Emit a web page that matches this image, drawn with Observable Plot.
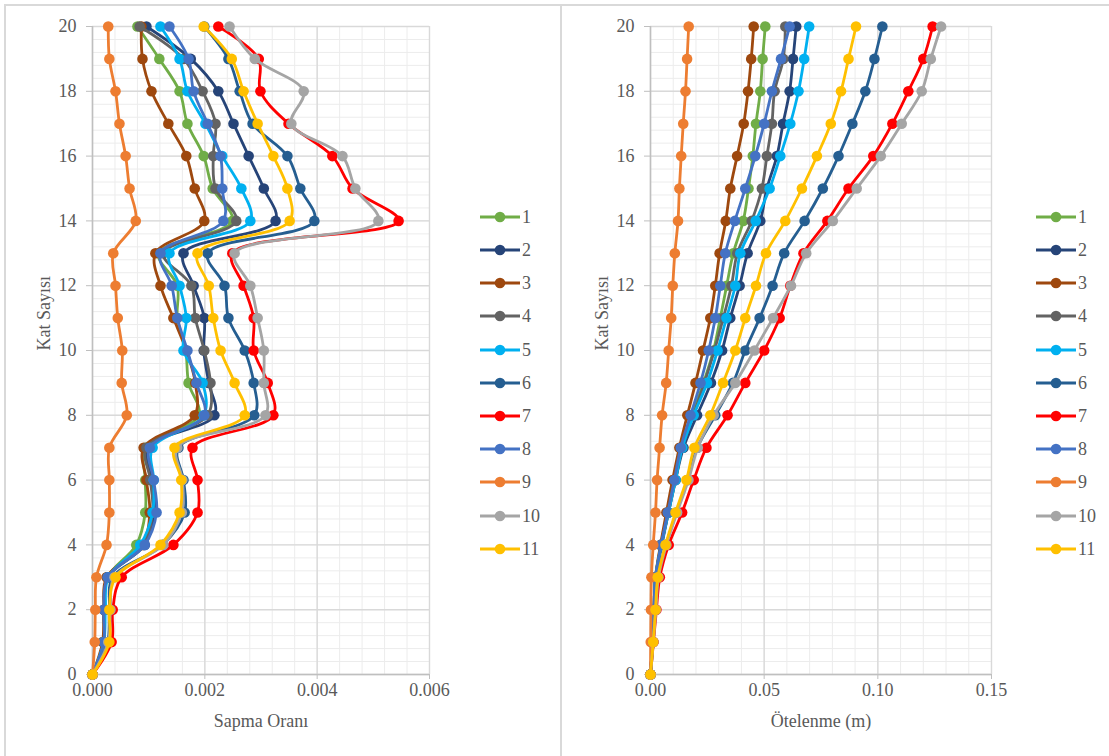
<!DOCTYPE html>
<html>
<head>
<meta charset="utf-8">
<script src="https://cdn.jsdelivr.net/npm/d3@7"></script>
<script src="https://cdn.jsdelivr.net/npm/@observablehq/plot@0.6"></script>
<style>
  html, body { margin: 0; padding: 0; background: #fff; }
  #page { position: relative; width: 1109px; height: 756px; overflow: hidden; font-family: "Liberation Serif", "Times New Roman", serif; }
  .box { position: absolute; border: 2px solid #d9d9d9; box-sizing: border-box; }
  .chart { position: absolute; top: 0; }
  .legend { position: absolute; }
  .legend .row { position: absolute; left: 0; height: 20px; display: flex; align-items: center; white-space: nowrap; }
  .legend .row span { font-family: "Liberation Serif", serif; font-size: 18px; color: #595959; margin-left: 2px; line-height: 20px; }
</style>
</head>
<body>
<div id="page">
  <div class="box" style="left:4px; top:4px; width:558px; height:800px;"></div>
  <div class="box" style="left:560px; top:4px; width:600px; height:800px;"></div>
  <div id="left" class="chart" style="left:0px;"></div>
  <div id="right" class="chart" style="left:561px;"></div>
  <div id="legL" class="legend" style="left:480px; top:0px;"></div>
  <div id="legR" class="legend" style="left:1036px; top:0px;"></div>
</div>
<script>
// ---------- data ----------
const floors = [0,1,2,3,4,5,6,7,8,9,10,11,12,13,14,15,16,17,18,19,20];
const seriesNames = ["1","2","3","4","5","6","7","8","9","10","11"];
const seriesColors = ["#70AD47","#264478","#9E480E","#636363","#00B0F0","#255E91","#FF0000","#4472C4","#ED7D31","#A5A5A5","#FFC000"];

// Sapma Oranı (drift ratio), floors 0..20
const drift1  = [0,0.00020,0.00021,0.00027,0.00078,0.00094,0.00094,0.00094,0.00189,0.00171,0.00166,0.00151,0.00151,0.00118,0.00249,0.00214,0.00198,0.00169,0.00155,0.00119,0.00080];
const drift2  = [0,0.00020,0.00021,0.00027,0.00093,0.00110,0.00107,0.00098,0.00217,0.00207,0.00198,0.00199,0.00180,0.00162,0.00326,0.00305,0.00278,0.00251,0.00224,0.00175,0.00096];
const drift3  = [0,0.00018,0.00020,0.00025,0.00089,0.00102,0.00096,0.00091,0.00182,0.00183,0.00167,0.00144,0.00121,0.00112,0.00199,0.00182,0.00167,0.00135,0.00105,0.00089,0.00087];
const drift4  = [0,0.00020,0.00021,0.00027,0.00091,0.00107,0.00103,0.00096,0.00205,0.00210,0.00199,0.00183,0.00176,0.00126,0.00256,0.00219,0.00215,0.00219,0.00196,0.00162,0.00084];
const drift5  = [0,0.00020,0.00023,0.00028,0.00085,0.00107,0.00109,0.00107,0.00198,0.00196,0.00162,0.00167,0.00155,0.00137,0.00281,0.00265,0.00231,0.00201,0.00169,0.00155,0.00121];
const drift6  = [0,0.00027,0.00030,0.00036,0.00125,0.00164,0.00162,0.00153,0.00288,0.00287,0.00271,0.00242,0.00235,0.00205,0.00395,0.00370,0.00347,0.00285,0.00262,0.00242,0.00199];
const drift7  = [0,0.00034,0.00036,0.00052,0.00144,0.00187,0.00187,0.00178,0.00322,0.00312,0.00287,0.00287,0.00269,0.00249,0.00545,0.00463,0.00427,0.00349,0.00299,0.00296,0.00224];
const drift8  = [0,0.00020,0.00020,0.00027,0.00093,0.00114,0.00109,0.00102,0.00199,0.00185,0.00169,0.00151,0.00141,0.00121,0.00233,0.00231,0.00228,0.00205,0.00180,0.00171,0.00137];
const drift9  = [0,0.00004,0.00005,0.00007,0.00025,0.00030,0.00030,0.00030,0.00061,0.00052,0.00053,0.00045,0.00041,0.00037,0.00077,0.00066,0.00059,0.00048,0.00041,0.00030,0.00028];
const drift10 = [0,0.00028,0.00032,0.00039,0.00126,0.00159,0.00160,0.00151,0.00308,0.00305,0.00305,0.00294,0.00281,0.00253,0.00509,0.00468,0.00445,0.00354,0.00376,0.00289,0.00244];
const drift11 = [0,0.00030,0.00030,0.00041,0.00121,0.00155,0.00158,0.00146,0.00271,0.00253,0.00228,0.00215,0.00207,0.00187,0.00351,0.00347,0.00322,0.00294,0.00269,0.00248,0.00198];

// Ötelenme (m), floors 0..20
const disp1  = [0,0.0009,0.0015,0.0022,0.0046,0.0075,0.0103,0.0134,0.0184,0.0233,0.0277,0.0307,0.0335,0.0364,0.0408,0.0431,0.0450,0.0464,0.0483,0.0493,0.0505];
const disp2  = [0,0.0009,0.0018,0.0024,0.0050,0.0079,0.0110,0.0145,0.0205,0.0266,0.0315,0.0351,0.0392,0.0427,0.0483,0.0512,0.0556,0.0583,0.0612,0.0627,0.0641];
const disp3  = [0,0.0009,0.0015,0.0022,0.0044,0.0070,0.0097,0.0127,0.0162,0.0198,0.0231,0.0263,0.0285,0.0304,0.0331,0.0351,0.0381,0.0410,0.0429,0.0443,0.0454];
const disp4  = [0,0.0009,0.0015,0.0022,0.0048,0.0079,0.0110,0.0140,0.0189,0.0237,0.0281,0.0320,0.0356,0.0382,0.0445,0.0490,0.0512,0.0534,0.0546,0.0584,0.0593];
const disp5  = [0,0.0009,0.0015,0.0022,0.0048,0.0079,0.0110,0.0140,0.0190,0.0249,0.0295,0.0334,0.0373,0.0395,0.0463,0.0524,0.0571,0.0615,0.0651,0.0676,0.0698];
const disp6  = [0,0.0012,0.0022,0.0032,0.0068,0.0114,0.0162,0.0206,0.0285,0.0363,0.0417,0.0480,0.0537,0.0588,0.0678,0.0758,0.0827,0.0888,0.0945,0.0985,0.1020];
const disp7  = [0,0.0013,0.0026,0.0041,0.0080,0.0139,0.0190,0.0246,0.0339,0.0417,0.0500,0.0568,0.0615,0.0673,0.0778,0.0871,0.0980,0.1064,0.1134,0.1200,0.1241];
const disp8  = [0,0.0009,0.0015,0.0022,0.0047,0.0076,0.0105,0.0133,0.0176,0.0220,0.0256,0.0285,0.0307,0.0329,0.0371,0.0417,0.0461,0.0500,0.0534,0.0574,0.0612];
const disp9  = [0,0.0001,0.0002,0.0004,0.0012,0.0022,0.0029,0.0040,0.0051,0.0069,0.0080,0.0091,0.0098,0.0107,0.0121,0.0127,0.0135,0.0144,0.0154,0.0161,0.0168];
const disp10 = [0,0.0012,0.0024,0.0035,0.0070,0.0117,0.0167,0.0208,0.0278,0.0373,0.0457,0.0539,0.0618,0.0685,0.0802,0.0907,0.1013,0.1105,0.1193,0.1233,0.1278];
const disp11 = [0,0.0012,0.0022,0.0032,0.0066,0.0110,0.0158,0.0193,0.0263,0.0319,0.0373,0.0417,0.0464,0.0508,0.0593,0.0666,0.0732,0.0793,0.0838,0.0871,0.0904];

const yTicks = [0,2,4,6,8,10,12,14,16,18,20];
const xTicksLeft = [0,0.002,0.004,0.006];
const xTicksRight = [0,0.05,0.10,0.15];
const yLabel = "Kat Sayısı";
const xLabelLeft = "Sapma Oranı";
const xLabelRight = "Ötelenme (m)";

const driftSeries = [drift1,drift2,drift3,drift4,drift5,drift6,drift7,drift8,drift9,drift10,drift11];
const dispSeries = [disp1,disp2,disp3,disp4,disp5,disp6,disp7,disp8,disp9,disp10,disp11];

const FONT = "'Liberation Serif', 'Times New Roman', serif";

// ---------- chart builder ----------
function buildChart({series, xDomain, xTicks, minorStep, fmt, xLabel, width, marginLeft, marginRight}) {
  const marks = [];
  const minorX = d3.range(xDomain[0], xDomain[1] + 1e-12, minorStep);
  const minorY = d3.range(0, 20.0001, 0.4);
  marks.push(Plot.ruleX(minorX, {stroke: "#ececec", strokeWidth: 1}));
  marks.push(Plot.ruleY(minorY, {stroke: "#ececec", strokeWidth: 1}));
  marks.push(Plot.ruleX(xTicks, {stroke: "#d9d9d9", strokeWidth: 1.4}));
  marks.push(Plot.ruleY(yTicks, {stroke: "#d9d9d9", strokeWidth: 1.4}));
  marks.push(Plot.ruleX([xDomain[0]], {stroke: "#bfbfbf", strokeWidth: 1.5}));
  marks.push(Plot.ruleY([0], {stroke: "#bfbfbf", strokeWidth: 1.5}));
  marks.push(Plot.axisY({ticks: yTicks, tickSize: 6, tickPadding: 10, stroke: "#bfbfbf", fill: "#595959", label: null, fontFamily: FONT, fontSize: 18, tickFormat: d => String(d)}));
  marks.push(Plot.axisX({ticks: xTicks, tickSize: 5, tickPadding: 4, stroke: "#bfbfbf", fill: "#595959", label: null, fontFamily: FONT, fontSize: 18, tickFormat: fmt}));
  marks.push(Plot.text([yLabel], {frameAnchor: "left", dx: -48, rotate: -90, fill: "#595959", fontSize: 18, fontFamily: FONT}));
  marks.push(Plot.text([xLabel], {frameAnchor: "bottom", dy: 52, fill: "#595959", fontSize: 18, fontFamily: FONT}));
  series.forEach((vals, i) => {
    const rows = floors.map((f, j) => ({floor: f, v: vals[j]}));
    marks.push(Plot.line(rows, {x: "v", y: "floor", stroke: seriesColors[i], strokeWidth: 2.8, curve: "catmull-rom"}));
    marks.push(Plot.dot(rows, {x: "v", y: "floor", r: 5.3, fill: seriesColors[i], stroke: "none"}));
  });
  return Plot.plot({
    width, height: 756,
    marginLeft, marginRight, marginTop: 26, marginBottom: 82,
    x: {domain: xDomain},
    y: {domain: [0, 20]},
    style: {fontFamily: FONT, fontSize: "18px", color: "#595959", background: "transparent", overflow: "visible"},
    marks
  });
}

document.getElementById("left").appendChild(buildChart({
  series: driftSeries, xDomain: [0, 0.006], xTicks: xTicksLeft, minorStep: 0.0004,
  fmt: d3.format(".3f"), xLabel: xLabelLeft, width: 560, marginLeft: 92, marginRight: 131
}));
document.getElementById("right").appendChild(buildChart({
  series: dispSeries, xDomain: [0, 0.15], xTicks: xTicksRight, minorStep: 0.01,
  fmt: d3.format(".2f"), xLabel: xLabelRight, width: 548, marginLeft: 89, marginRight: 118
}));

// ---------- legends ----------
function buildLegend(el) {
  seriesNames.forEach((name, i) => {
    const row = document.createElement("div");
    row.className = "row";
    row.style.top = (216.7 + i * 33.2 - 10) + "px";
    const c = seriesColors[i];
    row.innerHTML = `<svg width="40" height="20"><line x1="0" x2="40" y1="10" y2="10" stroke="${c}" stroke-width="2.8"/><circle cx="20" cy="10" r="5.3" fill="${c}"/></svg><span>${name}</span>`;
    el.appendChild(row);
  });
}
buildLegend(document.getElementById("legL"));
buildLegend(document.getElementById("legR"));
</script>
</body>
</html>
